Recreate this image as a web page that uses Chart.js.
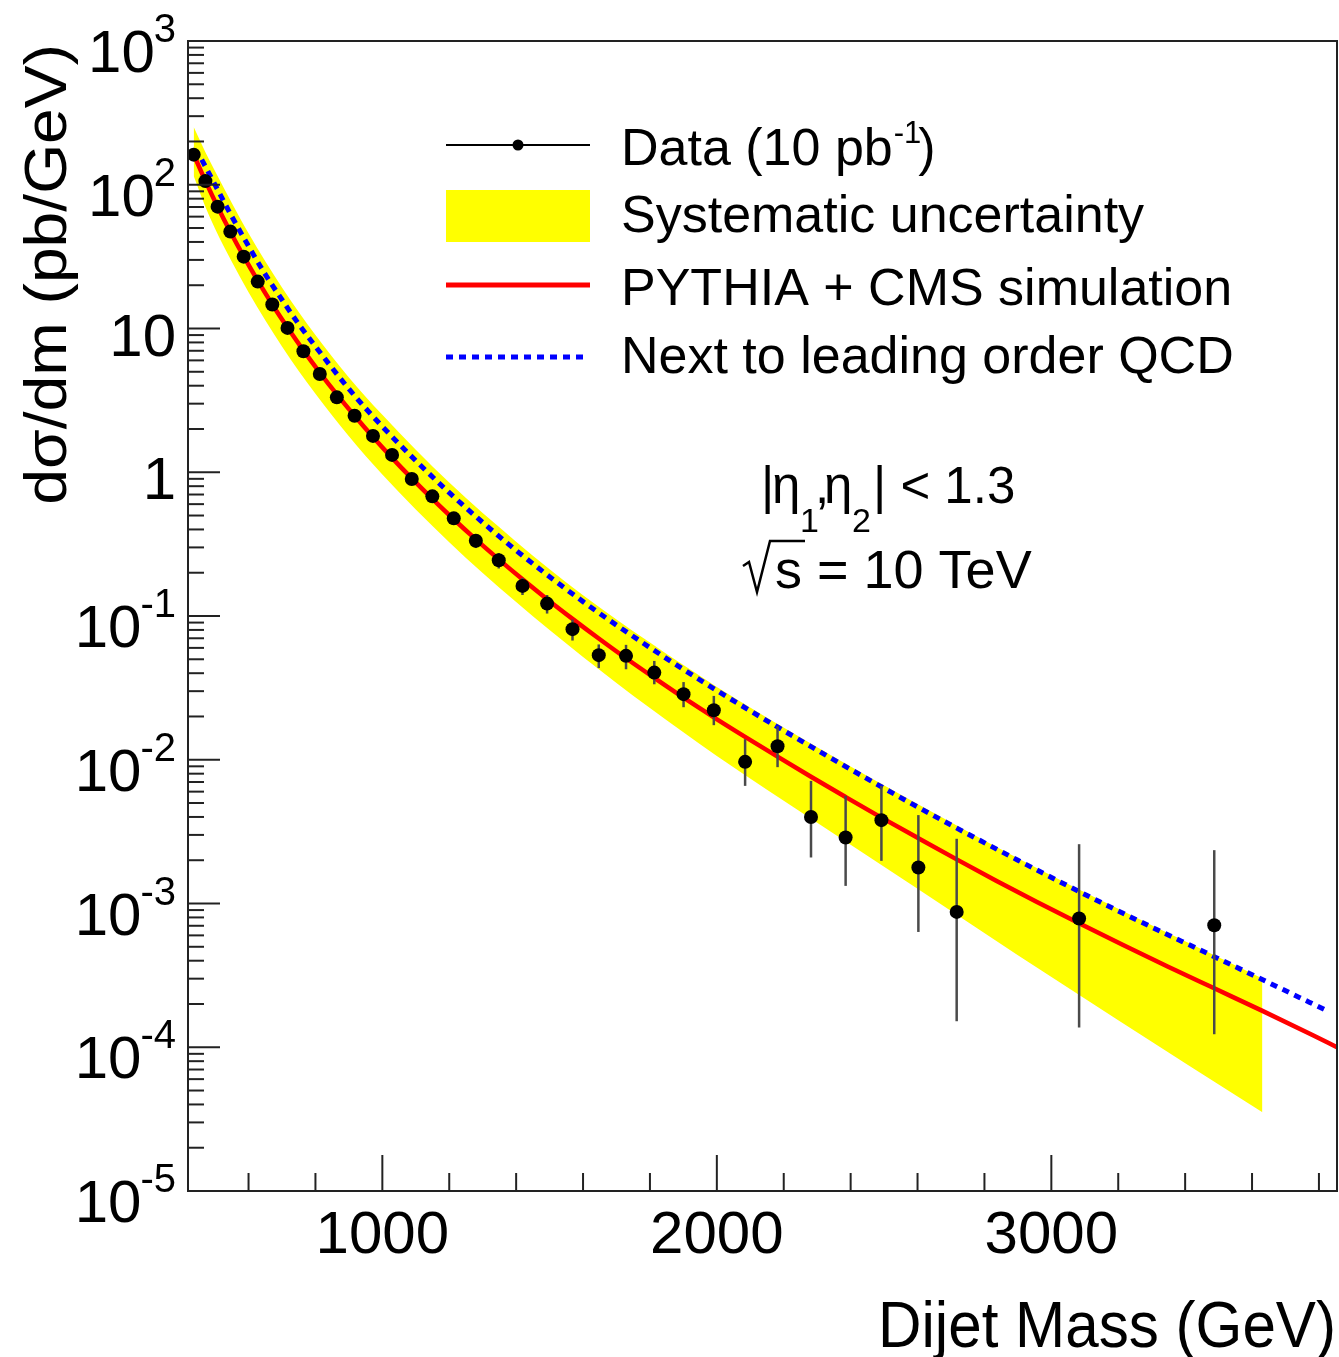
<!DOCTYPE html>
<html>
<head>
<meta charset="utf-8">
<script src="https://cdn.jsdelivr.net/npm/chart.js@4.4.0/dist/chart.umd.min.js"></script>
<style>
  html, body { margin: 0; padding: 0; background: #fff; }
  #c { display: block; }
</style>
</head>
<body>
<canvas id="c" width="1339" height="1357"></canvas>
<script>
// measured dijet mass spectrum, bin centres in GeV
const dataMass = [436, 471, 507.5, 545.5, 585.5, 627.5, 671, 716.5, 764, 813, 864, 917, 972, 1029,
  1088, 1149.5, 1213.5, 1279.5, 1348, 1419, 1492.5, 1568.5, 1647, 1728.5, 1813, 1900.5, 1991,
  2084.5, 2181.5, 2281.5, 2385, 2492, 2602.5, 2717, 3083, 3487];
const dataXsec = [162, 106, 70.4, 47.2, 31.6, 21.2, 14.7, 10.1, 6.94, 4.82, 3.32, 2.47, 1.79, 1.32,
  0.897, 0.680, 0.478, 0.334, 0.244, 0.162, 0.122, 0.081, 0.0534, 0.0528, 0.0404, 0.0286, 0.0221,
  0.00967, 0.0124, 0.0040, 0.00288, 0.0038, 0.00178, 0.000874, 0.000786, 0.000706];
const dataHigh = [165, 108, 71.6, 48.1, 32.3, 21.7, 15.1, 10.4, 7.17, 5.0, 3.46, 2.59, 1.89, 1.41,
  0.965, 0.74, 0.525, 0.371, 0.274, 0.184, 0.140, 0.0945, 0.0634, 0.0630, 0.0487, 0.0347, 0.0278,
  0.0139, 0.01713, 0.00713, 0.00561, 0.00658, 0.00412, 0.00282, 0.002586, 0.00235];
const dataLow = [159, 104, 69.2, 46.3, 30.9, 20.7, 14.3, 9.8, 6.71, 4.64, 3.18, 2.35, 1.69, 1.23,
  0.829, 0.62, 0.431, 0.297, 0.214, 0.140, 0.104, 0.0675, 0.0434, 0.0426, 0.0335, 0.0232, 0.0174,
  0.00658, 0.00888, 0.00209, 0.001326, 0.00198, 0.000634, 0.0001517, 0.0001372, 0.0001232];

// PYTHIA + CMS simulation
const pythiaMass = [436, 471, 507.5, 545.5, 585.5, 627.5, 671, 716.5, 764, 813, 864, 917, 972, 1029,
  1088, 1149.5, 1213.5, 1279.5, 1348, 1419, 1492.5, 1568.5, 1647, 1728.5, 1813, 1900.5, 1991,
  2084.5, 2181.5, 2281.5, 2385, 2492, 2602.5, 2717, 2835, 2957, 3083, 3213, 3347.5, 3487, 3631,
  3779, 3854];
const pythiaXsec = [162.6, 106.4, 70.3, 47.1, 31.7, 21.5, 14.7, 10.16, 7.05, 4.94, 3.48, 2.47, 1.758,
  1.259, 0.906, 0.653, 0.471, 0.341, 0.2477, 0.1799, 0.1309, 0.0955, 0.0697, 0.0508, 0.0371, 0.0270,
  0.01972, 0.01442, 0.01050, 0.00762, 0.00551, 0.00396, 0.002844, 0.002028, 0.001442, 0.001026,
  0.000728, 0.000516, 0.000365, 0.000257, 0.000179, 0.000122, 0.0001];

// next to leading order QCD
const nloMass = [460, 500, 550, 600, 650, 700, 750, 800, 900, 1000, 1200, 1400, 1600, 1800, 2000,
  2300, 2600, 2900, 3200, 3500, 3820];
const nloXsec = [149.6, 99.8, 60.1, 37.4, 23.8, 15.85, 10.72, 7.50, 3.80, 2.08, 0.721, 0.286, 0.1259,
  0.0603, 0.0303, 0.01167, 0.0047, 0.002, 0.000887, 0.000413, 0.0001816];

// systematic uncertainty band
const bandMass = [436, 470, 500, 550, 600, 700, 800, 900, 1000, 1200, 1400, 1600, 1800, 2000, 2300,
  2600, 2900, 3200, 3631];
const bandHigh = [251.8, 170.6, 124.2, 74.8, 46.0, 19.3, 9.02, 4.57, 2.51, 0.847, 0.329, 0.1396,
  0.0653, 0.0321, 0.01222, 0.00492, 0.002065, 0.000918, 0.0003006];
const bandLow = [115.1, 71.1, 49.4, 29.1, 17.9, 7.50, 3.51, 1.778, 0.964, 0.326, 0.125, 0.0519,
  0.0229, 0.01064, 0.003648, 0.001265, 0.0004365, 0.0001542, 0.00003524];

const xTickValues = [1000, 2000, 3000];
const xTickLabels = ['1000', '2000', '3000'];
const yTickValues = [1e3, 1e2, 10, 1, 0.1, 0.01, 1e-3, 1e-4, 1e-5];
const yTickLabels = [['10', '3'], ['10', '2'], ['10', ''], ['1', ''], ['10', '-1'], ['10', '-2'],
  ['10', '-3'], ['10', '-4'], ['10', '-5']];

const FONT = '"Liberation Sans", Arial, Helvetica, sans-serif';
const pts = (xs, ys) => xs.map((x, i) => ({ x: x, y: ys[i] }));

function line(ctx, x1, y1, x2, y2) {
  ctx.beginPath();
  ctx.moveTo(x1, y1);
  ctx.lineTo(x2, y2);
  ctx.stroke();
}

const rootStyle = {
  id: 'rootStyle',
  // error bars go under the markers
  beforeDatasetDraw(chart, args) {
    if (args.index !== 4) return;
    const ctx = chart.ctx, xs = chart.scales.x, ys = chart.scales.y;
    ctx.save();
    ctx.strokeStyle = '#4a4a4a';
    ctx.lineWidth = 2.5;
    dataMass.forEach((m, i) => {
      const px = xs.getPixelForValue(m);
      line(ctx, px, ys.getPixelForValue(dataHigh[i]), px, ys.getPixelForValue(dataLow[i]));
    });
    ctx.restore();
  },
  afterDraw(chart) {
    const ctx = chart.ctx, xs = chart.scales.x, ys = chart.scales.y;
    const { left, right, top, bottom } = chart.chartArea;
    ctx.save();

    // frame
    ctx.strokeStyle = '#222';
    ctx.lineWidth = 2;
    ctx.strokeRect(left, top, right - left, bottom - top);

    // y ticks (inside, left)
    for (let e = -5; e <= 2; e++) {
      for (let k = 1; k <= 9; k++) {
        const py = ys.getPixelForValue(k * Math.pow(10, e));
        line(ctx, left, py, left + (k === 1 ? 32 : 16), py);
      }
    }
    // x ticks (inside, bottom)
    for (let m = 600; m <= 3800; m += 200) {
      const px = xs.getPixelForValue(m);
      line(ctx, px, bottom, px, bottom - (m % 1000 === 0 ? 36 : 18));
    }

    ctx.fillStyle = '#000';
    // x tick labels
    ctx.font = '60px ' + FONT;
    ctx.textAlign = 'center';
    ctx.textBaseline = 'alphabetic';
    xTickValues.forEach((v, i) => {
      ctx.fillText(xTickLabels[i], xs.getPixelForValue(v), bottom + 62);
    });

    // y tick labels with superscripts
    ctx.textAlign = 'right';
    yTickValues.forEach((v, i) => {
      const py = ys.getPixelForValue(v);
      const [base, sup] = yTickLabels[i];
      if (sup) {
        ctx.font = '40px ' + FONT;
        const sw = ctx.measureText(sup).width;
        ctx.fillText(sup, 176, py + 1);
        ctx.font = '60px ' + FONT;
        ctx.fillText(base, 176 - sw + 1, py + 31);
      } else {
        ctx.font = '60px ' + FONT;
        ctx.fillText(base, 176, py + 27);
      }
    });

    // axis titles
    ctx.textAlign = 'right';
    ctx.save();
    ctx.translate(1336, 1347);
    ctx.scale(0.94, 1);
    ctx.font = '64px ' + FONT;
    ctx.fillText('Dijet Mass (GeV)', 0, 0);
    ctx.restore();
    ctx.save();
    ctx.translate(66, 44);
    ctx.rotate(-Math.PI / 2);
    ctx.scale(1.07, 1);
    ctx.font = '60px ' + FONT;
    ctx.fillText('d\u03c3/dm (pb/GeV)', 0, 0);
    ctx.restore();

    // legend
    ctx.textAlign = 'left';
    ctx.strokeStyle = '#000';
    ctx.lineWidth = 2;
    line(ctx, 446, 145, 590, 145);
    ctx.beginPath();
    ctx.arc(518, 145, 5.5, 0, Math.PI * 2);
    ctx.fill();
    ctx.font = '52px ' + FONT;
    ctx.fillText('Data (10 pb', 621, 165);
    const w = ctx.measureText('Data (10 pb').width;
    ctx.font = '31px ' + FONT;
    ctx.fillText('-1', 621 + w + 1, 143);
    const w2 = ctx.measureText('-1').width;
    ctx.font = '52px ' + FONT;
    ctx.fillText(')', 621 + w + w2 - 2, 165);

    ctx.fillStyle = '#ffff00';
    ctx.fillRect(446, 190, 144, 52);
    ctx.fillStyle = '#000';
    ctx.fillText('Systematic uncertainty', 621, 232);

    ctx.strokeStyle = '#ff0000';
    ctx.lineWidth = 5;
    line(ctx, 446, 285, 590, 285);
    ctx.fillText('PYTHIA + CMS simulation', 621, 305);

    ctx.strokeStyle = '#0000ff';
    ctx.setLineDash([7, 6]);
    line(ctx, 446, 357, 586, 357);
    ctx.setLineDash([]);
    ctx.fillText('Next to leading order QCD', 621, 373);

    // cut and energy labels
    ctx.font = '51px ' + FONT;
    ctx.fillText('|', 761, 503);
    ctx.fillText('\u03b7', 772, 503);
    ctx.fillText(',', 815, 503);
    ctx.fillText('\u03b7', 824, 503);
    ctx.fillText('| < 1.3', 873, 503);
    ctx.font = '34px ' + FONT;
    ctx.fillText('1', 800, 532);
    ctx.fillText('2', 852, 532);

    ctx.strokeStyle = '#000';
    ctx.lineWidth = 2.5;
    ctx.beginPath();
    ctx.moveTo(743, 566);
    ctx.lineTo(749, 562);
    ctx.lineTo(757, 592);
    ctx.lineTo(770, 541);
    ctx.lineTo(805, 541);
    ctx.stroke();
    ctx.font = '54px ' + FONT;
    ctx.fillText('s = 10 TeV', 775, 588);

    ctx.restore();
  }
};

new Chart(document.getElementById('c'), {
  type: 'line',
  data: {
    datasets: [
      {
        label: 'Systematic uncertainty',
        data: pts(bandMass, bandHigh),
        borderWidth: 0,
        pointRadius: 0,
        backgroundColor: '#ffff00',
        fill: '+1',
        cubicInterpolationMode: 'monotone',
        order: 10
      },
      {
        label: 'band low',
        data: pts(bandMass, bandLow),
        borderWidth: 0,
        pointRadius: 0,
        fill: false,
        cubicInterpolationMode: 'monotone',
        order: 11
      },
      {
        label: 'PYTHIA + CMS simulation',
        data: pts(pythiaMass, pythiaXsec),
        borderColor: '#ff0000',
        borderWidth: 4.5,
        pointRadius: 0,
        fill: false,
        cubicInterpolationMode: 'monotone',
        order: 3
      },
      {
        label: 'Next to leading order QCD',
        data: pts(nloMass, nloXsec),
        borderColor: '#0000ff',
        borderWidth: 5,
        borderDash: [7, 6],
        pointRadius: 0,
        fill: false,
        cubicInterpolationMode: 'monotone',
        order: 2
      },
      {
        label: 'Data (10 pb-1)',
        data: pts(dataMass, dataXsec),
        showLine: false,
        pointRadius: 7,
        pointBackgroundColor: '#000',
        pointBorderWidth: 0,
        order: 0
      }
    ]
  },
  options: {
    responsive: false,
    animation: false,
    devicePixelRatio: 1,
    layout: { autoPadding: false, padding: { left: 188, top: 41, right: 2, bottom: 166 } },
    scales: {
      x: { type: 'linear', min: 419, max: 3854, display: false },
      y: { type: 'logarithmic', min: 1e-5, max: 1e3, display: false }
    },
    plugins: {
      legend: { display: false },
      tooltip: { enabled: false }
    }
  },
  plugins: [rootStyle]
});
</script>
</body>
</html>
